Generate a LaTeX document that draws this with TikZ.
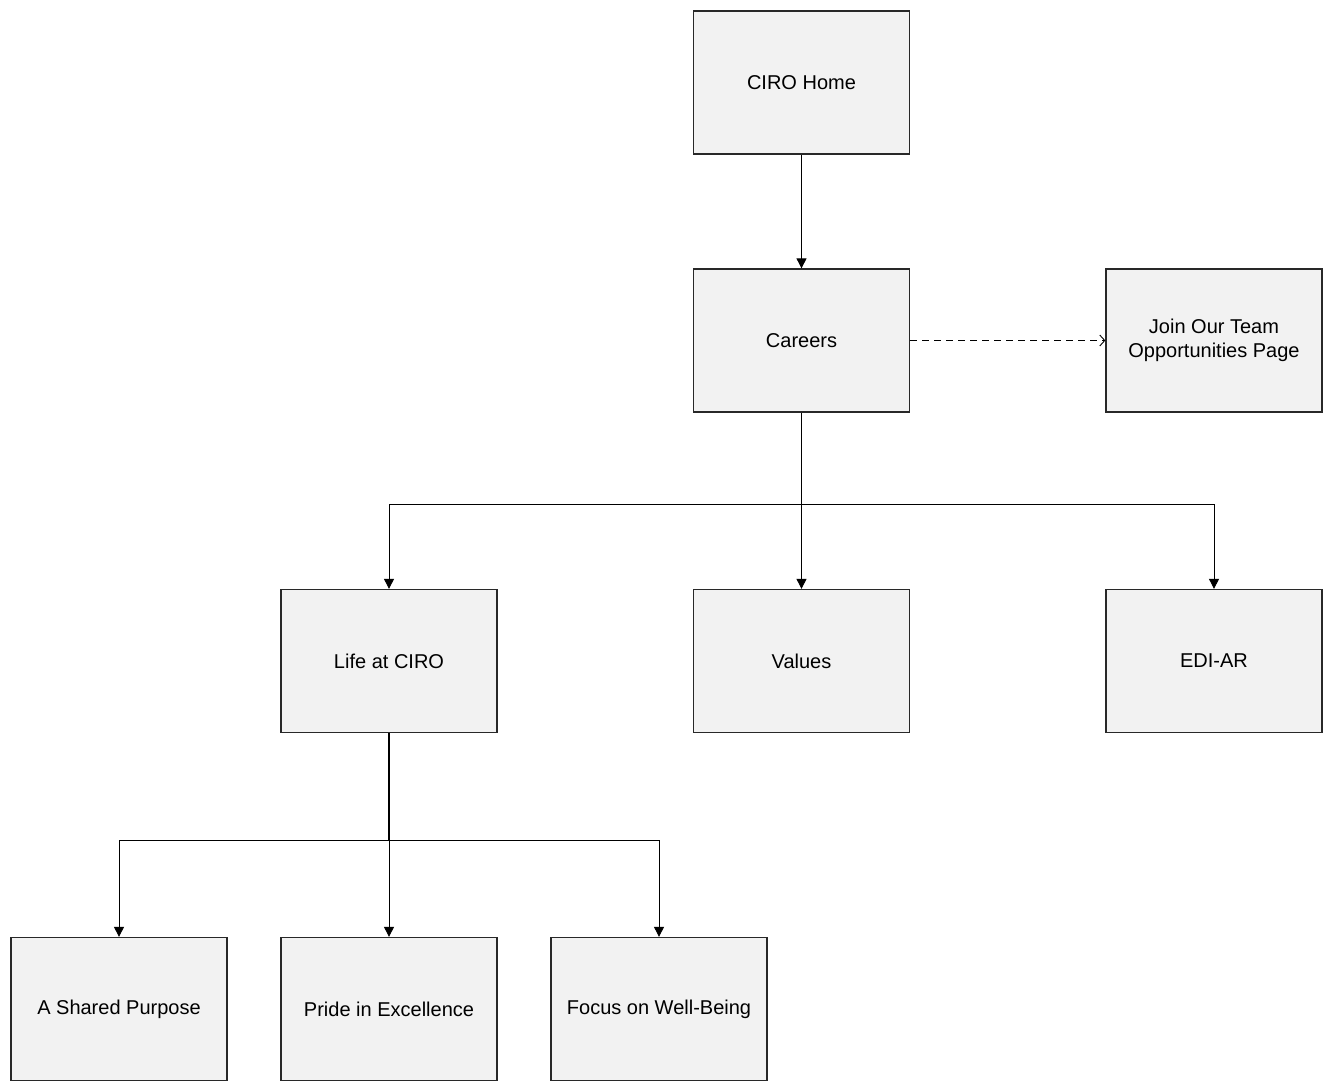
\documentclass[tikz,border=0pt]{standalone}
\usepackage{fontspec}
\setmainfont{Liberation Sans}
\usetikzlibrary{arrows.meta}
\definecolor{boxgray}{RGB}{242,242,242}
\definecolor{edgegray}{RGB}{40,40,40}

\begin{document}
\begin{tikzpicture}[x=1pt,y=-1pt,
    page/.style={draw=edgegray,line width=1.3pt,fill=boxgray,minimum width=216pt,minimum height=143pt,inner sep=0pt,align=center,font=\fontsize{20}{24}\selectfont},
    link/.style={line width=0.9pt,-{Triangle[length=10pt,width=10pt]}},
    trunk/.style={line width=1.2pt},
    weblink/.style={line width=0.9pt,dashed,dash pattern=on 7pt off 5pt,-{Straight Barb[length=5pt,width=11pt]}}]
  \useasboundingbox (0,0) rectangle (1333,1092);
  % pages
  \node[page] (home) at (801.5,82.5) {CIRO Home};
  \node[page] (careers) at (801.5,340.5) {Careers};
  \node[page] (join) at (1214,340.5) {Join Our Team\\Opportunities Page};
  \node[page] (life) at (389,661) {Life at CIRO};
  \node[page] (values) at (801.5,661) {Values};
  \node[page] (ediar) at (1214,661) {EDI-AR};
  \node[page] (shared) at (119,1009) {A Shared Purpose};
  \node[page] (pride) at (389,1009) {Pride in Excellence};
  \node[page] (focus) at (659,1009) {Focus on Well-Being};
  % branch points
  \coordinate (cfork) at (801.5,504);
  \coordinate (lfork) at (389,840);
  % links
  \draw[link] (home) -- (careers);
  \draw[weblink] (careers) -- (join);
  \draw[trunk] (careers) -- (cfork);
  \draw[link] (cfork) -| (life);
  \draw[link] (cfork) -- (values);
  \draw[link] (cfork) -| (ediar);
  \draw[trunk] (life) -- (lfork);
  \draw[link] (lfork) -| (shared);
  \draw[link] (lfork) -- (pride);
  \draw[link] (lfork) -| (focus);
\end{tikzpicture}
\end{document}
